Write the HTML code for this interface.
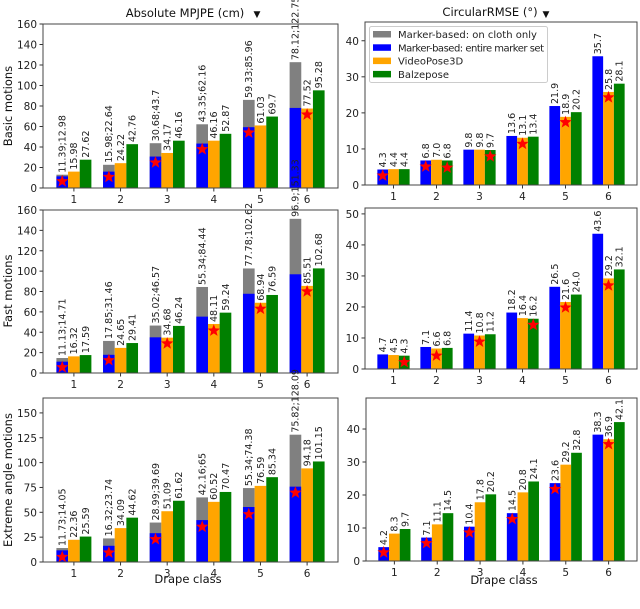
<!DOCTYPE html>
<html><head><meta charset="utf-8"><style>
html,body{margin:0;padding:0;background:#fff;}
svg{display:block;font-family:"DejaVu Sans","Liberation Sans",sans-serif;}
</style></head><body>
<svg id="fig" width="640" height="609" viewBox="0 0 640 609" xmlns="http://www.w3.org/2000/svg">
<text x="185" y="17" font-size="11.5" text-anchor="middle" fill="#111">Absolute MPJPE (cm)</text>
<text x="257" y="17" font-size="9" text-anchor="middle" fill="#111">▼</text>
<text x="490" y="16" font-size="11.5" text-anchor="middle" fill="#111">CircularRMSE (°)</text>
<text x="546" y="17" font-size="9" text-anchor="middle" fill="#111">▼</text>
<text transform="translate(12,106) rotate(-90)" font-size="11.5" text-anchor="middle" fill="#111">Basic motions</text>
<text transform="translate(12,291) rotate(-90)" font-size="11.5" text-anchor="middle" fill="#111">Fast motions</text>
<text transform="translate(12,480) rotate(-90)" font-size="11.5" text-anchor="middle" fill="#111">Extreme angle motions</text>
<text x="188" y="583" font-size="11.5" text-anchor="middle" fill="#111">Drape class</text>
<text x="504" y="584" font-size="11.5" text-anchor="middle" fill="#111">Drape class</text>
</svg>
<script>
const categories = ["1","2","3","4","5","6"];
// Panel 1: Basic motions, MPJPE
const p1Blue = [11.39,15.98,30.68,43.35,59.33,78.12];
const p1Gray = [12.98,22.64,43.7,62.16,85.96,122.75];
const p1Orange = [15.98,24.22,34.17,46.16,61.03,77.52];
const p1Green = [27.62,42.76,46.16,52.87,69.7,95.28];
const p1StarSeries = [0,0,0,0,0,1];
const p1StarVal = [6.5,10.7,24.8,37.8,54,71.6];
const p1Ticks = [0,20,40,60,80,100,120,140,160];
// Panel 2: Basic motions, RMSE
const p2Blue = [4.3,6.8,9.8,13.6,21.9,35.7];
const p2Orange = [4.4,7.0,9.8,13.1,18.9,25.8];
const p2Green = [4.4,6.8,9.7,13.4,20.2,28.1];
const p2StarSeries = [0,0,2,1,1,1];
const p2StarVal = [2.6,5.1,7.9,11.4,17.4,24.3];
const p2ExtraStarSeries = [2];
const p2ExtraStarCat = [1];
const p2ExtraStarVal = [4.8];
const p2Ticks = [0,10,20,30,40];
// Panel 3: Fast motions, MPJPE
const p3Blue = [11.13,17.85,35.02,55.34,77.78,96.9];
const p3Gray = [14.71,31.46,46.57,84.44,102.62,151.33];
const p3Orange = [16.32,24.65,34.68,48.11,68.94,85.51];
const p3Green = [17.59,29.41,46.24,59.24,76.59,102.68];
const p3StarSeries = [0,0,1,1,1,1];
const p3StarVal = [5.6,12.5,28.9,41.6,63,80];
const p3Ticks = [0,20,40,60,80,100,120,140,160];
// Panel 4: Fast motions, RMSE
const p4Blue = [4.7,7.1,11.4,18.2,26.5,43.6];
const p4Orange = [4.5,6.6,10.8,16.4,21.6,29.2];
const p4Green = [4.3,6.8,11.2,16.2,24.0,32.1];
const p4StarSeries = [2,1,1,2,1,1];
const p4StarVal = [2.2,4.3,8.8,14.2,19.8,26.9];
const p4Ticks = [0,10,20,30,40,50];
// Panel 5: Extreme angle, MPJPE
const p5Blue = [11.73,16.32,28.99,42.16,55.34,75.82];
const p5Gray = [14.05,23.74,39.69,65.0,74.38,128.09];
const p5Orange = [22.36,34.09,51.09,60.52,76.59,94.18];
const p5Green = [25.59,44.62,61.62,70.47,85.34,101.15];
const p5StarSeries = [0,0,0,0,0,0];
const p5StarVal = [5,9.4,22.9,35.4,48,69.7];
const p5Ticks = [0,25,50,75,100,125,150];
// Panel 6: Extreme angle, RMSE
const p6Blue = [4.2,7.1,10.4,14.5,23.6,38.3];
const p6Orange = [8.3,11.1,17.8,20.8,29.2,36.9];
const p6Green = [9.7,14.5,20.2,24.1,32.8,42.1];
const p6StarSeries = [0,0,0,0,0,1];
const p6StarVal = [2.6,5.4,8.6,12.7,21.8,35.4];
const p6Ticks = [0,10,20,30,40];

const NS = "http://www.w3.org/2000/svg";
const svg = document.getElementById("fig");
const COLORS = ["#0000ff","#ffa500","#008000"];
function mk(tag, attrs, parent){const e=document.createElementNS(NS,tag);for(const k in attrs)e.setAttribute(k,attrs[k]);(parent||svg).appendChild(e);return e;}
function starPts(cx,cy,R){const r=R*0.42;let p=[];for(let i=0;i<10;i++){const a=-Math.PI/2+i*Math.PI/5;const rr=i%2?r:R;p.push((cx+rr*Math.cos(a)).toFixed(1)+","+(cy+rr*Math.sin(a)).toFixed(1));}return p.join(" ");}

function panel(name, box, ymax, blue, gray, orange, green, starSer, starVal, ticks, decimals){
  const g = mk("g",{});
  
  
  const x0=box[0],x1=box[1],yT=box[2],yB=box[3];
  const xmin=0.3375,xmax=6.6625;
  const sx=v=>x0+(v-xmin)/(xmax-xmin)*(x1-x0);
  const sy=v=>yB-v/ymax*(yB-yT);
  const bw=(sx(1.25)-sx(1));
  const series=[blue,orange,green];
  for(let i=0;i<categories.length;i++){
    const c=i+1;
    if(gray){
      const r=mk("rect",{x:sx(c-0.25)-bw/2,y:sy(gray[i]),width:bw,height:sy(0)-sy(gray[i]),fill:"#808080"},g);
      
      
    }
    for(let s=0;s<3;s++){
      const v=series[s][i];
      const cx=sx(c+(s-1)*0.25);
      const r=mk("rect",{x:cx-bw/2,y:sy(v),width:bw,height:sy(0)-sy(v),fill:COLORS[s]},g);
      
      
      let label, top=v;
      if(s===0&&gray){label=blue[i]+";"+gray[i];top=Math.max(v,gray[i]);}
      else label=decimals?v.toFixed(decimals):String(v);
      const t=mk("text",{transform:"translate("+(cx+3.3)+","+(sy(top)-2)+") rotate(-90)","font-size":"9.5",fill:"#222"},g);
      t.textContent=label;
      
      
    }
    const sc=sx(c+(starSer[i]-1)*0.25);
    const st=mk("polygon",{points:starPts(sc,sy(starVal[i]),6.5),fill:"#ff0000"},g);
    
    
    mk("line",{x1:sx(c),x2:sx(c),y1:yB,y2:yB+3.5,stroke:"#333"},g);
    const tl=mk("text",{x:sx(c),y:yB+15,"font-size":"10.5","text-anchor":"middle",fill:"#222"},g);
    tl.textContent=categories[i];
    
    
  }
  for(const t of ticks){
    mk("line",{x1:x0-3.5,x2:x0,y1:sy(t),y2:sy(t),stroke:"#333"},g);
    const tl=mk("text",{x:x0-6,y:sy(t)+4,"font-size":"10.5","text-anchor":"end",fill:"#222"},g);
    tl.textContent=String(t);
    
    
  }
  const fr=mk("rect",{x:x0,y:yT,width:x1-x0,height:yB-yT,fill:"none",stroke:"#444","stroke-width":"1"},g);
  
  
  return {sx,sy,bw};
}

panel("panel-basic-mpjpe",[43,338,24,188],160,p1Blue,p1Gray,p1Orange,p1Green,p1StarSeries,p1StarVal,p1Ticks,0);
const P2=panel("panel-basic-rmse",[365,637,22,185],45.2,p2Blue,null,p2Orange,p2Green,p2StarSeries,p2StarVal,p2Ticks,1);
for(let k=0;k<p2ExtraStarCat.length;k++){
  const c=p2ExtraStarCat[k]+1;
  const st=mk("polygon",{points:starPts(P2.sx(c+(p2ExtraStarSeries[k]-1)*0.25),P2.sy(p2ExtraStarVal[k]),6.5),fill:"#ff0000"});
  
  
}
panel("panel-fast-mpjpe",[43,338,210,373],160,p3Blue,p3Gray,p3Orange,p3Green,p3StarSeries,p3StarVal,p3Ticks,0);
panel("panel-fast-rmse",[365,637,208,369],51.9,p4Blue,null,p4Orange,p4Green,p4StarSeries,p4StarVal,p4Ticks,1);
panel("panel-extreme-mpjpe",[43,338,398,562],165,p5Blue,p5Gray,p5Orange,p5Green,p5StarSeries,p5StarVal,p5Ticks,0);
panel("panel-extreme-rmse",[366,637,398,561],49.4,p6Blue,null,p6Orange,p6Green,p6StarSeries,p6StarVal,p6Ticks,1);

// Legend
const legendLabels=["Marker-based: on cloth only","Marker-based: entire marker set","VideoPose3D","Balzepose"];
const legendColors=["#808080","#0000ff","#ffa500","#008000"];
const lg=mk("g",{});


mk("rect",{x:369.5,y:26.5,width:178,height:56,rx:2,fill:"#fff","fill-opacity":"0.85",stroke:"#ccc"},lg);
for(let i=0;i<4;i++){
  const y=34+i*13.3;
  mk("rect",{x:373,y:y-3,width:18,height:6.5,fill:legendColors[i]},lg);
  const t=mk("text",{x:398,y:y+4,"font-size":"10","textLength":(i===1?146:null)||undefined,fill:"#222"},lg);
  t.textContent=legendLabels[i];
  
  
}
</script>
</body></html>
